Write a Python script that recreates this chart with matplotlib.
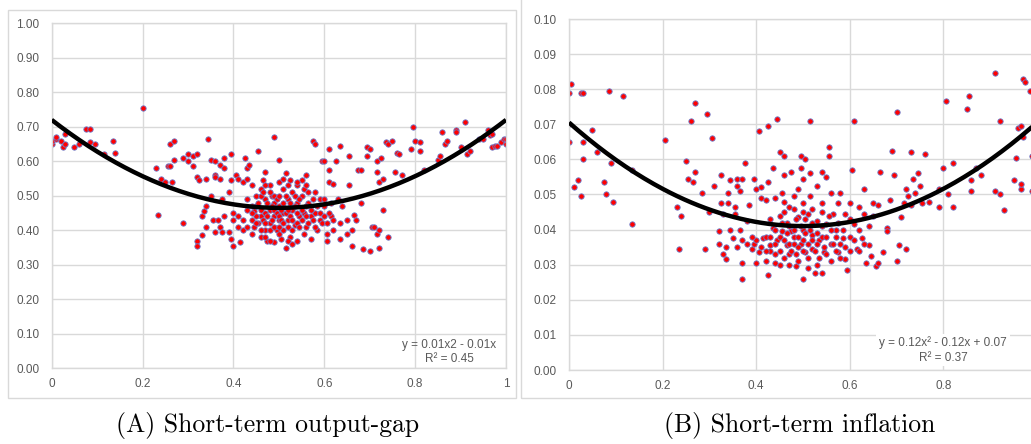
import matplotlib
matplotlib.use("Agg")
import matplotlib.pyplot as plt
import numpy as np
from matplotlib.patches import Rectangle

plt.rcParams['font.family'] = ['Liberation Sans', 'DejaVu Sans']

# (x, y) points, panel A: short-term output-gap
gap_pts = [
    (0.00, 0.65), (0.00, 0.66), (0.01, 0.665), (0.01, 0.67), (0.02, 0.66), (0.025, 0.64),
    (0.03, 0.68), (0.03, 0.65), (0.05, 0.64), (0.06, 0.65), (0.075, 0.695), (0.085, 0.695),
    (0.085, 0.655), (0.095, 0.65), (0.115, 0.62), (0.135, 0.66), (0.14, 0.625), (0.20, 0.755),
    (0.23, 0.58), (0.235, 0.445), (0.24, 0.55), (0.25, 0.54), (0.255, 0.585), (0.26, 0.65),
    (0.26, 0.585), (0.265, 0.54), (0.27, 0.66), (0.27, 0.605), (0.29, 0.61), (0.29, 0.42),
    (0.30, 0.62), (0.30, 0.60), (0.31, 0.615), (0.31, 0.585), (0.32, 0.62), (0.32, 0.555),
    (0.325, 0.545), (0.32, 0.37), (0.32, 0.355), (0.33, 0.385), (0.33, 0.44), (0.335, 0.455),
    (0.34, 0.55), (0.34, 0.47), (0.34, 0.41), (0.345, 0.665), (0.35, 0.605), (0.35, 0.50),
    (0.355, 0.43), (0.36, 0.60), (0.36, 0.56), (0.36, 0.555), (0.36, 0.395), (0.365, 0.43),
    (0.37, 0.59), (0.37, 0.55), (0.37, 0.41), (0.375, 0.49), (0.375, 0.395), (0.38, 0.61),
    (0.38, 0.58), (0.38, 0.44), (0.39, 0.51), (0.39, 0.395), (0.395, 0.62), (0.395, 0.545),
    (0.395, 0.375), (0.40, 0.45), (0.40, 0.43), (0.40, 0.355), (0.405, 0.56), (0.41, 0.41),
    (0.41, 0.55), (0.415, 0.365), (0.42, 0.54), (0.42, 0.40), (0.425, 0.61), (0.43, 0.58),
    (0.43, 0.55), (0.43, 0.46), (0.435, 0.59), (0.44, 0.53), (0.44, 0.43), (0.445, 0.41),
    (0.45, 0.50), (0.45, 0.47), (0.455, 0.63), (0.46, 0.52), (0.46, 0.44), (0.46, 0.38),
    (0.465, 0.545), (0.47, 0.57), (0.47, 0.49), (0.47, 0.40), (0.475, 0.37), (0.48, 0.53),
    (0.48, 0.46), (0.48, 0.42), (0.485, 0.50), (0.49, 0.67), (0.49, 0.48), (0.49, 0.44),
    (0.49, 0.365), (0.495, 0.40), (0.50, 0.605), (0.50, 0.54), (0.50, 0.47), (0.50, 0.43),
    (0.505, 0.375), (0.51, 0.52), (0.51, 0.45), (0.51, 0.40), (0.515, 0.565), (0.515, 0.35),
    (0.52, 0.49), (0.52, 0.43), (0.525, 0.545), (0.525, 0.38), (0.53, 0.51), (0.53, 0.46),
    (0.535, 0.415), (0.54, 0.53), (0.54, 0.48), (0.54, 0.37), (0.545, 0.44), (0.55, 0.545),
    (0.55, 0.50), (0.555, 0.45), (0.56, 0.56), (0.56, 0.41), (0.565, 0.48), (0.57, 0.44),
    (0.57, 0.375), (0.575, 0.66), (0.58, 0.65), (0.58, 0.51), (0.58, 0.45), (0.585, 0.40),
    (0.59, 0.49), (0.59, 0.43), (0.595, 0.60), (0.60, 0.60), (0.60, 0.47), (0.605, 0.37),
    (0.605, 0.39), (0.61, 0.635), (0.61, 0.575), (0.61, 0.54), (0.615, 0.44), (0.62, 0.535),
    (0.62, 0.40), (0.625, 0.60), (0.63, 0.49), (0.635, 0.645), (0.635, 0.42), (0.635, 0.375),
    (0.64, 0.47), (0.65, 0.43), (0.65, 0.39), (0.655, 0.615), (0.655, 0.53), (0.66, 0.40),
    (0.66, 0.355), (0.665, 0.445), (0.67, 0.43), (0.675, 0.575), (0.68, 0.575), (0.68, 0.48),
    (0.685, 0.345), (0.695, 0.64), (0.695, 0.615), (0.70, 0.635), (0.70, 0.34), (0.705, 0.41),
    (0.71, 0.41), (0.715, 0.60), (0.715, 0.57), (0.715, 0.39), (0.72, 0.54), (0.72, 0.40),
    (0.72, 0.35), (0.725, 0.61), (0.73, 0.55), (0.73, 0.46), (0.735, 0.655), (0.74, 0.65),
    (0.74, 0.38), (0.75, 0.66), (0.755, 0.57), (0.76, 0.625), (0.765, 0.62), (0.77, 0.56),
    (0.79, 0.635), (0.795, 0.70), (0.80, 0.66), (0.81, 0.63), (0.81, 0.655), (0.82, 0.575),
    (0.85, 0.605), (0.855, 0.615), (0.86, 0.685), (0.865, 0.65), (0.87, 0.66), (0.89, 0.69),
    (0.89, 0.685), (0.90, 0.64), (0.91, 0.715), (0.915, 0.62), (0.92, 0.63), (0.94, 0.665),
    (0.95, 0.665), (0.96, 0.69), (0.965, 0.675), (0.97, 0.68), (0.97, 0.64), (0.975, 0.645),
    (0.98, 0.645), (0.99, 0.655), (0.995, 0.665), (1.00, 0.65), (1.00, 0.665),
]
gap_cluster = [
    (0.44, 0.47), (0.445, 0.455), (0.45, 0.44), (0.455, 0.48), (0.455, 0.42), (0.46, 0.50),
    (0.46, 0.46), (0.465, 0.43), (0.465, 0.51), (0.47, 0.45), (0.47, 0.42), (0.475, 0.48),
    (0.475, 0.44), (0.48, 0.51), (0.48, 0.40), (0.485, 0.47), (0.485, 0.43), (0.49, 0.46),
    (0.49, 0.50), (0.49, 0.41), (0.495, 0.45), (0.495, 0.49), (0.50, 0.44), (0.50, 0.50),
    (0.50, 0.41), (0.505, 0.46), (0.505, 0.43), (0.51, 0.48), (0.51, 0.42), (0.515, 0.45),
    (0.515, 0.50), (0.52, 0.46), (0.52, 0.41), (0.525, 0.44), (0.525, 0.48), (0.53, 0.43),
    (0.53, 0.40), (0.535, 0.47), (0.535, 0.50), (0.54, 0.45), (0.54, 0.42), (0.545, 0.49),
    (0.545, 0.41), (0.55, 0.46), (0.55, 0.43), (0.555, 0.52), (0.555, 0.39), (0.56, 0.47),
    (0.56, 0.44), (0.565, 0.42), (0.565, 0.51), (0.57, 0.46), (0.575, 0.43), (0.575, 0.49),
    (0.58, 0.41), (0.585, 0.47), (0.59, 0.45), (0.595, 0.42), (0.60, 0.44), (0.60, 0.49),
    (0.605, 0.42), (0.61, 0.45), (0.615, 0.48), (0.62, 0.43), (0.47, 0.38), (0.48, 0.37),
    (0.52, 0.37), (0.53, 0.36), (0.50, 0.39), (0.46, 0.40), (0.45, 0.42), (0.44, 0.39),
    (0.43, 0.41), (0.42, 0.43), (0.41, 0.44), (0.44, 0.45), (0.43, 0.49), (0.52, 0.53),
    (0.51, 0.55), (0.47, 0.53), (0.54, 0.54), (0.56, 0.53),
]

# panel B: short-term inflation
inf_pts = [
    (0.00, 0.079), (0.00, 0.07), (0.00, 0.065), (0.005, 0.0815), (0.01, 0.052), (0.02, 0.054),
    (0.025, 0.079), (0.03, 0.079), (0.025, 0.0495), (0.03, 0.065), (0.03, 0.06), (0.05, 0.0685),
    (0.06, 0.062), (0.075, 0.0535), (0.078, 0.050), (0.085, 0.0795), (0.09, 0.059), (0.095, 0.048),
    (0.115, 0.078), (0.135, 0.0415), (0.135, 0.057), (0.205, 0.0655), (0.23, 0.0465), (0.235, 0.0345),
    (0.24, 0.044), (0.25, 0.0595), (0.255, 0.0545), (0.26, 0.071), (0.265, 0.0535), (0.27, 0.076),
    (0.27, 0.0565), (0.285, 0.0505), (0.29, 0.0345), (0.295, 0.073), (0.30, 0.045), (0.305, 0.066),
    (0.31, 0.0525), (0.32, 0.0395), (0.32, 0.036), (0.325, 0.0555), (0.325, 0.0475), (0.33, 0.0445),
    (0.33, 0.033), (0.335, 0.035), (0.335, 0.0315), (0.34, 0.0505), (0.34, 0.0475), (0.345, 0.054),
    (0.345, 0.040), (0.35, 0.0375), (0.355, 0.0465), (0.355, 0.0445), (0.36, 0.0545), (0.36, 0.0525),
    (0.36, 0.035), (0.365, 0.051), (0.365, 0.040), (0.37, 0.0545), (0.37, 0.037), (0.37, 0.026),
    (0.37, 0.0305), (0.375, 0.059), (0.38, 0.0425), (0.385, 0.047), (0.39, 0.0345), (0.395, 0.0545),
    (0.395, 0.036), (0.40, 0.0515), (0.40, 0.0305), (0.405, 0.068), (0.405, 0.0335), (0.41, 0.052),
    (0.41, 0.049), (0.415, 0.0375), (0.42, 0.0485), (0.42, 0.031), (0.425, 0.0695), (0.425, 0.0535),
    (0.425, 0.027), (0.43, 0.043), (0.43, 0.0355), (0.435, 0.0575), (0.435, 0.0405), (0.44, 0.049),
    (0.44, 0.0305), (0.445, 0.0715), (0.445, 0.037), (0.45, 0.062), (0.45, 0.030), (0.455, 0.0505),
    (0.455, 0.0395), (0.46, 0.061), (0.46, 0.0555), (0.46, 0.045), (0.465, 0.042), (0.465, 0.0355),
    (0.47, 0.0465), (0.47, 0.033), (0.475, 0.0565), (0.475, 0.0395), (0.48, 0.0495), (0.48, 0.038),
    (0.485, 0.0295), (0.49, 0.0515), (0.49, 0.0435), (0.495, 0.061), (0.495, 0.0575), (0.495, 0.036),
    (0.50, 0.0545), (0.50, 0.0475), (0.50, 0.040), (0.50, 0.026), (0.505, 0.060), (0.505, 0.0335),
    (0.51, 0.0445), (0.51, 0.029), (0.515, 0.071), (0.515, 0.056), (0.515, 0.0495), (0.52, 0.0385),
    (0.52, 0.0345), (0.525, 0.0275), (0.53, 0.0525), (0.53, 0.0425), (0.535, 0.037), (0.54, 0.0565),
    (0.54, 0.0475), (0.54, 0.0275), (0.545, 0.0335), (0.55, 0.055), (0.55, 0.0415), (0.555, 0.0635),
    (0.555, 0.061), (0.56, 0.0505), (0.56, 0.036), (0.565, 0.0445), (0.57, 0.040), (0.575, 0.0475),
    (0.575, 0.0335), (0.58, 0.0505), (0.585, 0.0375), (0.59, 0.0445), (0.59, 0.0315), (0.595, 0.0285),
    (0.60, 0.0475), (0.60, 0.034), (0.605, 0.057), (0.61, 0.071), (0.61, 0.0415), (0.615, 0.0345),
    (0.62, 0.0465), (0.625, 0.0375), (0.63, 0.0445), (0.63, 0.0515), (0.635, 0.0305), (0.64, 0.0355),
    (0.645, 0.0325), (0.65, 0.0475), (0.655, 0.0295), (0.66, 0.0305), (0.665, 0.0565), (0.67, 0.0335),
    (0.68, 0.0405), (0.68, 0.0395), (0.685, 0.0485), (0.69, 0.0625), (0.695, 0.0555), (0.70, 0.0735),
    (0.70, 0.031), (0.705, 0.0355), (0.71, 0.0435), (0.715, 0.0475), (0.72, 0.0515), (0.72, 0.0345),
    (0.725, 0.0495), (0.73, 0.062), (0.73, 0.047), (0.735, 0.0545), (0.74, 0.0505), (0.745, 0.056),
    (0.75, 0.0525), (0.755, 0.0475), (0.76, 0.0615), (0.77, 0.048), (0.79, 0.0515), (0.79, 0.0465),
    (0.80, 0.0575), (0.805, 0.0765), (0.81, 0.050), (0.82, 0.0465), (0.82, 0.059), (0.85, 0.0745),
    (0.855, 0.078), (0.86, 0.054), (0.86, 0.051), (0.87, 0.0575), (0.88, 0.0555), (0.91, 0.0845),
    (0.91, 0.051), (0.92, 0.071), (0.92, 0.050), (0.93, 0.0455), (0.95, 0.054), (0.955, 0.0605),
    (0.96, 0.069), (0.965, 0.0695), (0.965, 0.0515), (0.965, 0.053), (0.97, 0.0665), (0.97, 0.083),
    (0.975, 0.082), (0.985, 0.0795), (0.99, 0.061), (0.99, 0.051), (0.995, 0.081),
]
inf_cluster = [
    (0.40, 0.037), (0.41, 0.035), (0.42, 0.038), (0.43, 0.034), (0.44, 0.036), (0.44, 0.040),
    (0.45, 0.038), (0.45, 0.034), (0.455, 0.042), (0.46, 0.037), (0.46, 0.032), (0.465, 0.039),
    (0.47, 0.036), (0.47, 0.041), (0.475, 0.034), (0.48, 0.040), (0.48, 0.036), (0.485, 0.033),
    (0.485, 0.043), (0.49, 0.038), (0.49, 0.035), (0.495, 0.041), (0.50, 0.037), (0.50, 0.034),
    (0.505, 0.039), (0.505, 0.043), (0.51, 0.036), (0.51, 0.032), (0.515, 0.040), (0.52, 0.037),
    (0.52, 0.042), (0.525, 0.034), (0.53, 0.039), (0.53, 0.036), (0.535, 0.032), (0.54, 0.041),
    (0.54, 0.038), (0.545, 0.035), (0.55, 0.038), (0.55, 0.033), (0.555, 0.044), (0.56, 0.040),
    (0.565, 0.036), (0.57, 0.038), (0.57, 0.034), (0.575, 0.042), (0.58, 0.036), (0.585, 0.040),
    (0.59, 0.035), (0.60, 0.038), (0.60, 0.043), (0.61, 0.037), (0.62, 0.040), (0.63, 0.036),
    (0.48, 0.046), (0.50, 0.045), (0.52, 0.046), (0.46, 0.048), (0.54, 0.045), (0.45, 0.044),
    (0.47, 0.030), (0.53, 0.030), (0.49, 0.031), (0.44, 0.033), (0.56, 0.031), (0.58, 0.032),
    (0.42, 0.034), (0.43, 0.038), (0.39, 0.038), (0.38, 0.036), (0.62, 0.034), (0.64, 0.041),
    (0.66, 0.047), (0.65, 0.044),
]

# trendline coefficients (quadratic, highest power first)
gap_fit = [1.02, -1.02, 0.72]
inf_fit = [0.118, -0.118, 0.0705]

gap_label = "y = 0.01x2 - 0.01x\nR\u00b2 = 0.45"
inf_label = "y = 0.12x\u00b2 - 0.12x + 0.07\nR\u00b2 = 0.37"

gap_yticks = [0.0, 0.1, 0.2, 0.3, 0.4, 0.5, 0.6, 0.7, 0.8, 0.9, 1.0]
inf_yticks = [0.0, 0.01, 0.02, 0.03, 0.04, 0.05, 0.06, 0.07, 0.08, 0.09, 0.10]
gap_xticks = [0, 0.2, 0.4, 0.6, 0.8, 1]
gap_xlabels = ["0", "0.2", "0.4", "0.6", "0.8", "1"]
inf_xticks = [0, 0.2, 0.4, 0.6, 0.8]       # the "1" label falls off the page
inf_xlabels = ["0", "0.2", "0.4", "0.6", "0.8"]

GRID = '#d9d9d9'
TXT = '#595959'
W, H = 1031, 444

fig = plt.figure(figsize=(W / 100, H / 100), dpi=100)


def px_axes(x0, x1, ytop, ybot):
    return fig.add_axes([x0 / W, (H - ybot) / H, (x1 - x0) / W, (ybot - ytop) / H])


def style(ax, xticks, xlabels, yticks):
    ax.set_xlim(0, 1)
    ax.set_ylim(yticks[0], yticks[-1])
    ax.set_xticks(xticks)
    ax.set_xticklabels(xlabels)
    ax.set_yticks(yticks)
    ax.set_yticklabels(["%.2f" % v for v in yticks])
    ax.grid(True, color=GRID, lw=1.0)
    ax.set_axisbelow(True)
    for s in ax.spines.values():
        s.set_color(GRID)
        s.set_linewidth(1.0)
    ax.tick_params(length=0, colors=TXT, labelsize=8.5)
    ax.tick_params(axis='y', pad=9)
    ax.tick_params(axis='x', pad=7)


def draw(ax, pts, cluster, fit):
    p = np.array(pts + cluster)
    ax.scatter(p[:, 0], p[:, 1], s=15, c='#ff0000', edgecolors='#6a7fd0',
               linewidths=0.6, zorder=2)
    xs = np.linspace(0, 1, 200)
    ax.plot(xs, np.polyval(fit, xs), color='black', lw=3.2, zorder=3,
            solid_capstyle='butt')


# chart frames
fig.add_artist(Rectangle((8 / W, (H - 398) / H), 508 / W, 388 / H,
                         transform=fig.transFigure, fill=False, ec=GRID, lw=1))
fig.add_artist(Rectangle((521 / W, (H - 398) / H), 600 / W, 500 / H,
                         transform=fig.transFigure, fill=False, ec=GRID, lw=1))

ax1 = px_axes(51.7, 506, 23.3, 368.3)
style(ax1, gap_xticks, gap_xlabels, gap_yticks)
draw(ax1, gap_pts, gap_cluster, gap_fit)

ax2 = px_axes(569, 1037, 19, 370)
style(ax2, inf_xticks + [1], inf_xlabels + [""], inf_yticks)
draw(ax2, inf_pts, inf_cluster, inf_fit)

fig.text(449 / W, (H - 352) / H, gap_label, ha='center', va='center',
         multialignment='center', color=TXT, fontsize=8.5, linespacing=1.25)
fig.text(943 / W, (H - 350) / H, inf_label, ha='center', va='center',
         multialignment='center', color=TXT, fontsize=8.5, linespacing=1.25,
         bbox=dict(fc='white', ec='none', pad=2))

# captions
fig.text(268 / W, (H - 425) / H, "(A) Short-term output-gap", family='cmr10',
         fontsize=18.5, ha='center', va='center')
fig.text(800 / W, (H - 425) / H, "(B) Short-term inflation", family='cmr10',
         fontsize=18.5, ha='center', va='center')

fig.savefig("out.png", dpi=100)
